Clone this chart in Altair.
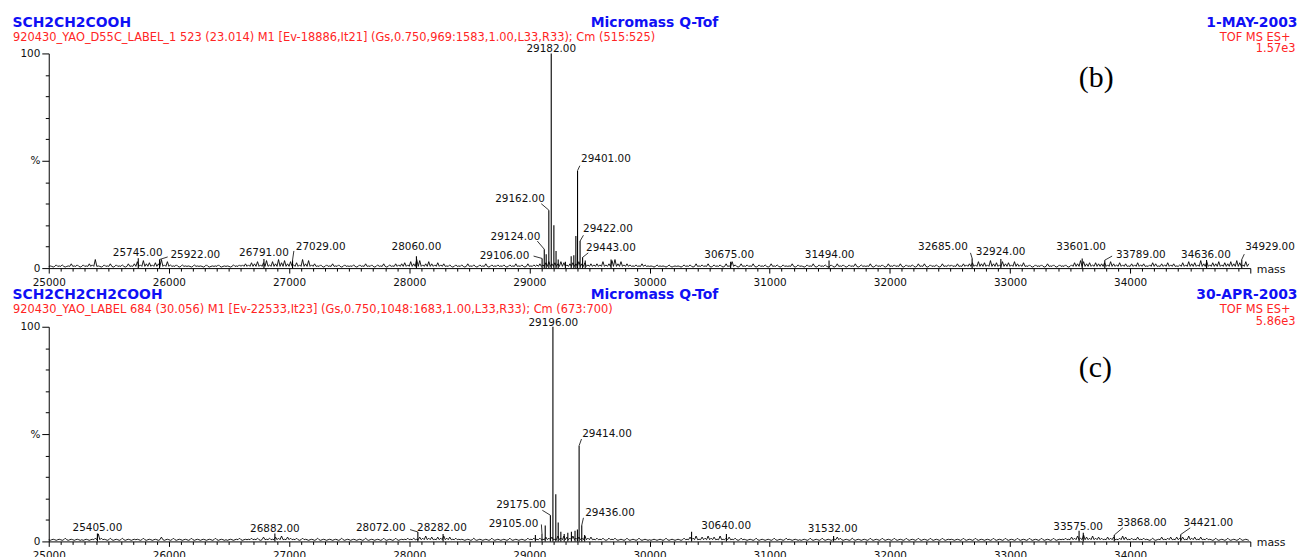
import altair as alt
import pandas as pd

START = 25000
BLOCK = 1250
STEP = 25
UNIT = 0.5      # percent per noise digit
BASE = 0.8      # baseline level of the profile, percent

# ---- noise profile, one digit per 25 Da, one string per 1250 Da block ----
noise_b = [
    "21323124231324" "382" "13241323142" "4637453548" "363231322132",
    "21312231221323" "34354635736485746353847" "3423132423132",
    "2313242313241324" "34536487346435342" "31323142313241323",
    "231324231423" "3435645465345464534" "3436347846343232432",
    "213221312213" "231423241323142" "6" "3142324132314" "231322413",
    "2132413231" "3142313241" "3224132314" "2324132314" "2413231423",
    "3242434" "536453745364536435" "231323142313231" "3547645354",
    "45364353424353423542435342" "353645374635463546475364",
]
noise_c = [
    "121213121211212" "373" "21312131212" "213121214121312121312",
    "1212131211212312" "2323142324352432313" "212131212121312",
    "121213121213121312" "2323243534243534232" "2121312121312",
    "121312121323" "2324342535435343534" "2323132312131213121",
    "121213121213" "2435243534252342313" "2121312121312132121",
    "12131213121243121312" "12131213121312131213" "1213121312",
    "2121312131" "2121312131" "2131213121" "3121312" "2324353643534",
    "3243423542" "3242321312" "4234243425" "3424232131" "2131213121",
]

# ---- peaks (mass, % intensity) ----
peaks_b_mass = [25745, 25922, 26791, 27029, 28060, 29106, 29124, 29140, 29162, 29182,
                29204, 29222, 29240, 29300, 29348, 29370, 29387, 29401, 29422, 29443,
                29465, 29680, 30675, 31494, 32685, 32924, 33601, 33789, 34636, 34929]
peaks_b_pct = [4.6, 4.0, 4.2, 3.7, 5.5, 4.5, 8.8, 6.5, 27.0, 100.0,
               20.0, 8.0, 4.0, 3.0, 5.5, 6.0, 15.0, 45.4, 12.6, 5.0,
               3.5, 4.0, 3.0, 3.5, 4.6, 4.2, 4.5, 3.7, 3.8, 4.0]

peaks_c_mass = [25405, 26882, 28072, 28282, 29050, 29105, 29132, 29175, 29196, 29220,
                29240, 29262, 29290, 29320, 29350, 29380, 29400, 29414, 29436, 29460,
                30350, 30640, 31532, 33575, 33610, 33868, 34421]
peaks_c_pct = [3.7, 3.7, 4.4, 3.5, 3.0, 3.7, 7.4, 12.2, 100.0, 22.0,
               8.8, 4.5, 3.5, 4.0, 4.5, 5.0, 5.5, 44.6, 7.5, 3.0,
               4.5, 3.5, 2.5, 5.0, 4.0, 3.0, 3.2]

# ---- peak labels: label value, label anchor (mass, %) ----
labels_b = [25745, 25922, 26791, 27029, 28060, 29106, 29124, 29162, 29182, 29401,
            29422, 29443, 30675, 31494, 32685, 32924, 33601, 33789, 34636, 34929]
labels_b_x = [25740, 26220, 26791, 27263, 28060, 28793, 28884, 28922, 29182, 29637,
              29654, 29679, 30663, 31499, 32442, 32922, 33592, 34089, 34631, 35164]
labels_b_y = [7.0, 6.0, 7.0, 9.7, 9.7, 5.5, 14.5, 32.4, 101.9, 51.0,
              18.0, 9.4, 6.0, 6.0, 9.9, 7.5, 9.7, 6.0, 6.0, 9.7]

labels_c = [25405, 26882, 28072, 28282, 29105, 29175, 29196, 29414, 29436, 30640,
            31532, 33575, 33868, 34421]
labels_c_x = [25405, 26882, 27763, 28272, 28868, 28931, 29199, 29646, 29671, 30638,
              31524, 33567, 34097, 34651]
labels_c_y = [6.3, 5.7, 6.3, 6.3, 8.3, 16.8, 101.9, 50.0, 13.3, 7.4,
              6.0, 6.8, 8.6, 8.6]

# ---- leader lines: peak (mass, %) -> label end (mass, %) ----
leaders_b = [(25922, 4.0, 25990, 5.2), (27029, 3.7, 27040, 8.0), (29106, 4.5, 29035, 5.6),
             (29124, 8.8, 29066, 12.6), (29162, 27.0, 29099, 30.0), (29401, 45.4, 29420, 47.7),
             (29422, 12.6, 29450, 15.3), (29443, 5.0, 29490, 7.1), (32685, 4.6, 32671, 7.1),
             (33789, 3.7, 33850, 5.6), (34929, 4.0, 34950, 6.5)]
leaders_c = [(28072, 4.4, 28007, 5.5), (29105, 3.7, 29100, 7.9), (29175, 12.2, 29108, 14.5),
             (29414, 44.6, 29434, 47.7), (29436, 7.5, 29450, 11.0), (33868, 3.0, 33940, 6.4),
             (34421, 3.2, 34500, 6.3)]

header_b = ["SCH2CH2COOH",
            "920430_YAO_D55C_LABEL_1  523 (23.014) M1 [Ev-18886,It21] (Gs,0.750,969:1583,1.00,L33,R33); Cm (515:525)",
            "Micromass Q-Tof", "1-MAY-2003", "TOF MS ES+", "1.57e3"]
header_c = ["SCH2CH2CH2COOH",
            "920430_YAO_LABEL  684 (30.056) M1 [Ev-22533,It23] (Gs,0.750,1048:1683,1.00,L33,R33); Cm (673:700)",
            "Micromass Q-Tof", "30-APR-2003", "TOF MS ES+", "5.86e3"]

W, H = 1209, 216
BLUE = "#1010F5"
RED = "#FF2424"
FONT = "DejaVu Sans"

xaxis = alt.Axis(
    title=None, grid=False,
    values=list(range(25000, 35001, 100)),
    labelExpr="(datum.value % 1000 == 0 && datum.value < 35000) ? format(datum.value, 'd') : ''",
    labelFlush=False, labelOverlap=False, labelBound=False,
    tickSize={"condition": {"test": "datum.value % 1000 == 0", "value": 5}, "value": 3},
    labelPadding=4, labelFontSize=10.5, labelFont=FONT, labelColor="#111",
    domainColor="black", tickColor="black",
)
yaxis = alt.Axis(
    title=None, grid=False,
    values=list(range(0, 101, 10)),
    labelExpr="datum.value == 100 ? '100' : (datum.value == 50 ? '%' : (datum.value == 0 ? '0' : ''))",
    labelOverlap=False, labelFlush=False,
    tickSize={"condition": {"test": "datum.value % 50 == 0", "value": 7}, "value": 3.5},
    labelPadding=2, labelFontSize=10.5, labelFont=FONT, labelColor="#111",
    domainColor="black", tickColor="black",
)
xsc = alt.Scale(domain=[25000, 35000], nice=False, zero=False)
ysc = alt.Scale(domain=[0, 100], nice=False)


def text_layer(txt, x, y, color, size, weight="normal", align="left", font=FONT):
    return alt.Chart(pd.DataFrame({"t": [txt]})).mark_text(
        align=align, baseline="alphabetic", color=color, fontSize=size,
        fontWeight=weight, font=font,
    ).encode(text="t:N", x=alt.value(x), y=alt.value(y))


def panel(noise, pk_m, pk_h, lb, lb_x, lb_y, leads, hdr, tag, tag_y, hdr_dy):
    rows = []
    for k, block in enumerate(noise):
        base = START + BLOCK * k
        for j, ch in enumerate(block):
            m = base + STEP * j
            rows.append({"mass": m, "pct": BASE})
            rows.append({"mass": m + STEP / 2, "pct": int(ch) * UNIT})
    noise_df = pd.DataFrame(rows)
    peaks_df = pd.DataFrame({"mass": pk_m, "pct": pk_h, "zero": [0] * len(pk_m)})
    lab_df = pd.DataFrame({"t": [f"{v}.00" for v in lb], "lx": lb_x, "ly": lb_y})
    lead_df = pd.DataFrame(leads, columns=["pm", "ph", "em", "eh"])

    X = alt.X("mass:Q", scale=xsc, axis=xaxis)
    Y = alt.Y("pct:Q", scale=ysc, axis=yaxis)

    line = alt.Chart(noise_df).mark_line(color="black", strokeWidth=0.9).encode(x=X, y=Y)
    sticks = alt.Chart(peaks_df).mark_rule(color="black", strokeWidth=1.1).encode(
        x=X, y=Y, y2="zero:Q")
    lead = alt.Chart(lead_df).mark_rule(color="black", strokeWidth=0.8).encode(
        x=alt.X("pm:Q", scale=xsc, axis=xaxis), y=alt.Y("ph:Q", scale=ysc, axis=yaxis),
        x2="em:Q", y2="eh:Q")
    labs = alt.Chart(lab_df).mark_text(
        font=FONT, fontSize=10.5, color="#111", baseline="middle", align="center"
    ).encode(x=alt.X("lx:Q", scale=xsc, axis=xaxis), y=alt.Y("ly:Q", scale=ysc, axis=yaxis), text="t:N")

    top_y, red_y = hdr_dy
    layers = [
        line, sticks, lead, labs,
        text_layer(hdr[0], -36.5, top_y, BLUE, 14, "bold"),
        text_layer(hdr[1], -36, red_y, RED, 11.5),
        text_layer(hdr[2], 609.5, top_y, BLUE, 14, "bold", "center"),
        text_layer(hdr[3], 1256.5, top_y, BLUE, 14, "bold", "right"),
        text_layer(hdr[4], 1249.5, red_y, RED, 11.5, "normal", "right"),
        text_layer(hdr[5], 1254.5, red_y + 12, RED, 11.5, "normal", "right"),
        text_layer(tag, 1036.5, tag_y, "black", 30, "normal", "left", "Liberation Serif"),
        text_layer("mass", 1215.5, H + 4.5, "#111", 11),
    ]
    return alt.layer(*layers).properties(width=W, height=H)


pb = panel(noise_b, peaks_b_mass, peaks_b_pct, labels_b, labels_b_x, labels_b_y,
           leaders_b, header_b, "(b)", 33.7, (-27, -13))
pc = panel(noise_c, peaks_c_mass, peaks_c_pct, labels_c, labels_c_x, labels_c_y,
           leaders_c, header_c, "(c)", 50.7, (-28, -14))

chart = alt.vconcat(pb, pc, spacing=59, bounds="flush").properties(
    padding={"left": 4, "top": 6, "right": 0, "bottom": 0}
).configure_view(stroke=None)

chart.save("out.html", embed_options={"renderer": "svg", "actions": False})
